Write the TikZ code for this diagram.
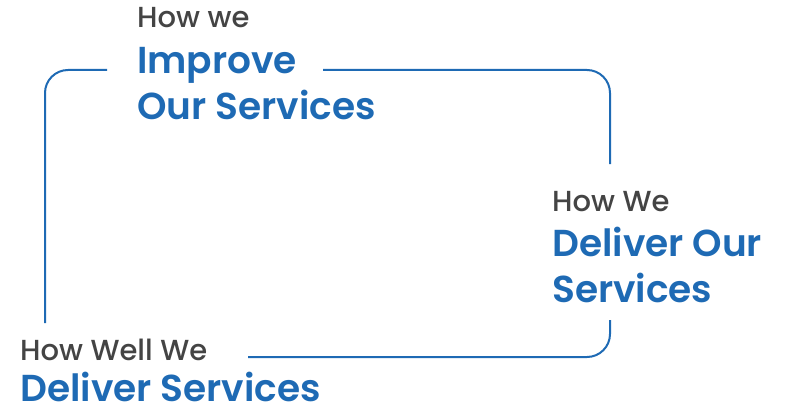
\documentclass[tikz,border=0pt]{standalone}
\usepackage{fontspec}
\newfontfamily\graysans{Poppins Medium}
\newfontfamily\bluesans{Poppins SemiBold}
\usetikzlibrary{positioning}
\definecolor{frameblue}{HTML}{1E6AB4}
\definecolor{headgray}{HTML}{444444}

\begin{document}
\begin{tikzpicture}[
    x=1pt, y=-1pt,
    frame/.style={draw=frameblue, line width=2pt, rounded corners=23pt},
    headtext/.style={anchor=base west, inner sep=0pt, text=headgray, font=\graysans\fontsize{29}{32}\selectfont},
    maintext/.style={anchor=base west, inner sep=0pt, align=left, text=frameblue, font=\bluesans\fontsize{37.5}{45.5}\selectfont}
]
    \useasboundingbox (0,0) rectangle (791,409);

    % text blocks (base of a two-line node is its last line)
    \node[headtext] at (137, 28) (improvehead) {How we};
    \node[maintext] at (137, 119) (improvebody) {Improve\\Our Services};

    \node[headtext] at (552, 211) (deliverhead) {How We};
    \node[maintext] at (552, 302) (deliverbody) {Deliver Our\\Services};

    \node[headtext] at (20, 360) (wellhead) {How Well We};
    \node[maintext] at (20, 401) (wellbody) {Deliver Services};

    % frame pieces
    \coordinate (topgapL) at (107, 70);
    \coordinate (topgapR) at (323, 70);
    \coordinate (cornerTL) at (45, 70);
    \coordinate (cornerTR) at (610, 70);
    \coordinate (cornerBR) at (610, 357);
    \coordinate (leftend) at (45, 323);
    \coordinate (rightgapT) at (610, 164);
    \coordinate (rightgapB) at (610, 320);
    \coordinate (bottomend) at (248, 357);

    \draw[frame] (topgapL) -- (cornerTL) -- (leftend);
    \draw[frame] (topgapR) -- (cornerTR) -- (rightgapT);
    \draw[frame] (rightgapB) -- (cornerBR) -- (bottomend);
\end{tikzpicture}
\end{document}
